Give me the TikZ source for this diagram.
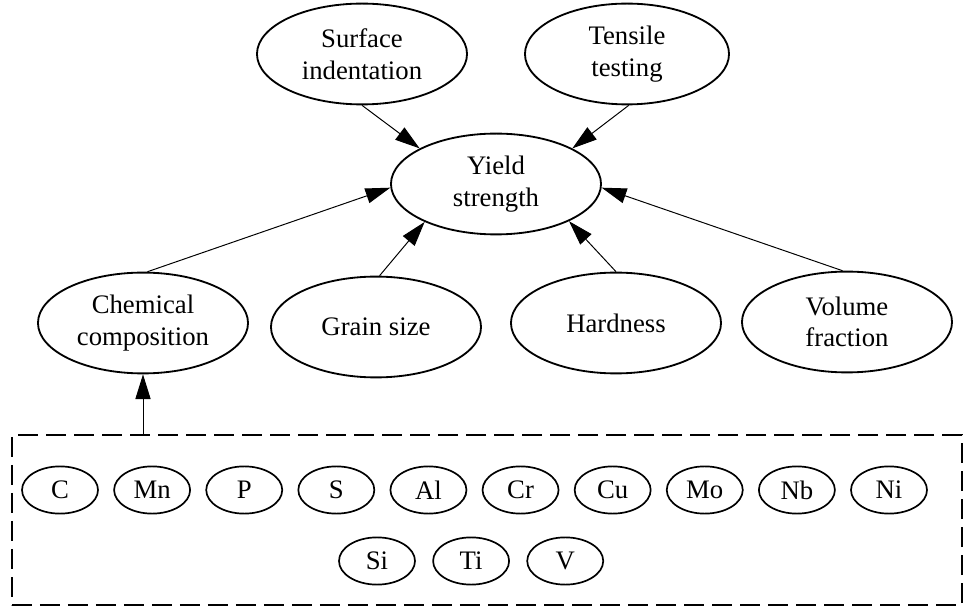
\documentclass[tikz,border=0pt]{standalone}
\usepackage{fontspec}
\setmainfont{Liberation Serif}
\usepackage{tikz}
\usetikzlibrary{arrows.meta,positioning,shapes.geometric}
\tikzset{
  factor/.style={draw,ellipse,line width=1.3pt,minimum width=5.25cm,minimum height=2.52cm,
    inner sep=1pt,align=center,font=\fontsize{19}{22.5}\selectfont},
  element/.style={draw,ellipse,line width=1.2pt,minimum width=1.9cm,minimum height=1.18cm,
    inner sep=1pt,font=\fontsize{19}{22.5}\selectfont},
  group/.style={draw,line width=1.3pt,dash pattern=on 0.5cm off 0.2cm,
    minimum width=23.75cm,minimum height=4.25cm},
  arrow/.style={-{Triangle[length=0.62cm,width=0.38cm]},line width=0.7pt}
}
\begin{document}
\begin{tikzpicture}[x=0.025cm,y=-0.025cm,node distance=0.36cm]
  \useasboundingbox (0,0) rectangle (967,609);
  \node[factor] (yield) at (496,184) {Yield\\strength};
  \node[factor] (surface) at (362,54) {Surface\\indentation};
  \node[factor,minimum width=5.1cm] (tensile) at (627,54) {Tensile\\testing};
  \node[factor] (chem) at (143,323) {Chemical\\composition};
  \node[factor] (grain) at (376,327) {Grain size};
  \node[factor] (hard) at (616,323) {Hardness};
  \node[factor] (volume) at (847,322) {Volume\\fraction};
  % alloying elements
  \node[group] (elements) at (487,520) {};
  \node[element] (c) at (60,490) {C};
  \node[element,right=of c] (mn) {Mn};
  \node[element,right=of mn] (p) {P};
  \node[element,right=of p] (s) {S};
  \node[element,right=of s] (al) {Al};
  \node[element,right=of al] (cr) {Cr};
  \node[element,right=of cr] (cu) {Cu};
  \node[element,right=of cu] (mo) {Mo};
  \node[element,right=of mo] (nb) {Nb};
  \node[element,right=of nb] (ni) {Ni};
  \node[element] (si) at (377,561) {Si};
  \node[element,right=0.41cm of si] (ti) {Ti};
  \node[element,right=0.41cm of ti] (v) {V};
  % edges
  \draw[arrow] (surface.south) -- (yield.155);
  \draw[arrow] (tensile.272) -- (yield.25);
  \draw[arrow] (chem.85) -- (yield.182);
  \draw[arrow] (grain.86) -- (yield.208);
  \draw[arrow] (hard.north) -- (yield.333);
  \draw[arrow] (volume.95) -- (yield.358);
  \draw[arrow] (chem.south |- elements.north) -- (chem.south);
\end{tikzpicture}
\end{document}
